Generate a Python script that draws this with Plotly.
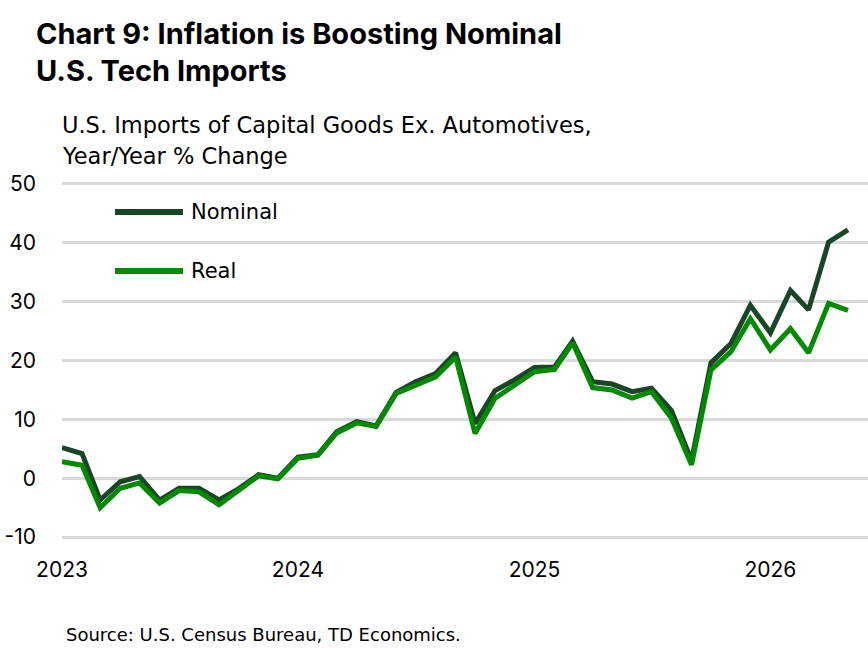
import pandas as pd
import plotly.graph_objects as go

months = pd.date_range("2023-01-01", periods=41, freq="MS")
nominal = [5.2, 4.2, -3.7, -0.6, 0.3, -3.7, -1.7, -1.7, -3.7, -1.8, 0.6, 0.0, 3.6,
           4.0, 7.9, 9.6, 8.9, 14.6, 16.4, 17.8, 21.3, 9.3, 14.9, 16.7, 18.8, 18.9, 23.3,
           16.4, 16.0, 14.7, 15.3, 11.5, 3.0, 19.6, 22.9, 29.4, 24.7, 31.9, 28.6, 40.1, 42.2]
real = [2.8, 2.2, -5.0, -1.7, -0.8, -4.2, -2.1, -2.3, -4.5, -2.2, 0.4, -0.1, 3.4,
        3.9, 7.7, 9.4, 8.8, 14.4, 15.8, 17.2, 20.6, 7.6, 13.6, 15.8, 18.1, 18.5, 23.0,
        15.4, 15.0, 13.6, 14.7, 10.2, 2.3, 18.4, 21.5, 27.1, 21.8, 25.4, 21.3, 29.7, 28.5]
year_ticks = ["2023-01-01", "2024-01-01", "2025-01-01", "2026-01-01"]
year_labels = ["2023", "2024", "2025", "2026"]
y_ticks = [-10, 0, 10, 20, 30, 40, 50]
y_labels = ["-10", "0", "10", "20", "30", "40", "50"]

NOM_C = "#1b4527"
REAL_C = "#008a00"
FONT = "Inter"
FONT2 = "DejaVu Sans"

W, H = 868, 648
L, R, T, B = 62, 0, 178, 105
pw, ph = W - L - R, H - T - B


def px(x):
    return (x - L) / pw


def py(y):
    return (H - B - y) / ph


fig = go.Figure()
fig.add_trace(go.Scatter(x=months, y=nominal, mode="lines", name="Nominal",
                         line=dict(color=NOM_C, width=5), showlegend=False))
fig.add_trace(go.Scatter(x=months, y=real, mode="lines", name="Real",
                         line=dict(color=REAL_C, width=5), showlegend=False))

fig.update_layout(
    width=W, height=H,
    margin=dict(l=L, r=R, t=T, b=B),
    paper_bgcolor="white", plot_bgcolor="white",
    font=dict(family=FONT, color="#000000"),
    xaxis=dict(range=["2023-01-01", "2026-06-01"], tickvals=year_ticks, ticktext=year_labels,
               showgrid=False, zeroline=False, showline=False, ticks="",
               tickfont=dict(size=21, family=FONT, color="#000"), ticklabelstandoff=12),
    yaxis=dict(range=[-11, 51], tickvals=y_ticks, ticktext=y_labels, showgrid=True,
               gridcolor="#d9d9d9", gridwidth=2.5, zeroline=False, showline=False, ticks="",
               tickfont=dict(size=21, family=FONT, color="#000"), ticklabelstandoff=25),
)

anns = [
    dict(text="<b>Chart 9: Inflation is Boosting Nominal</b>", x=px(34), y=py(33), size=29, f=FONT),
    dict(text="<b>U.S. Tech Imports</b>", x=px(34), y=py(70), size=29, f=FONT),
    dict(text="U.S. Imports of Capital Goods Ex. Automotives,", x=px(60), y=py(125), size=22.5, f=FONT2),
    dict(text="Year/Year % Change", x=px(60), y=py(156), size=22.5, f=FONT2),
    dict(text="Source: U.S. Census Bureau, TD Economics.", x=px(64), y=py(634), size=18, f=FONT2),
    dict(text="Nominal", x=px(189), y=py(212), size=21, f=FONT2),
    dict(text="Real", x=px(189), y=py(271), size=21, f=FONT2),
]
for a in anns:
    fig.add_annotation(text=a["text"], x=a["x"], y=a["y"], xref="paper", yref="paper",
                       xanchor="left", yanchor="middle", showarrow=False,
                       font=dict(size=a["size"], family=a["f"], color="#000"))

for yy, c in [(212, NOM_C), (271, REAL_C)]:
    fig.add_shape(type="line", xref="paper", yref="paper", x0=px(115), x1=px(183),
                  y0=py(yy), y1=py(yy), line=dict(color=c, width=6))

fig.write_html("out.html")
